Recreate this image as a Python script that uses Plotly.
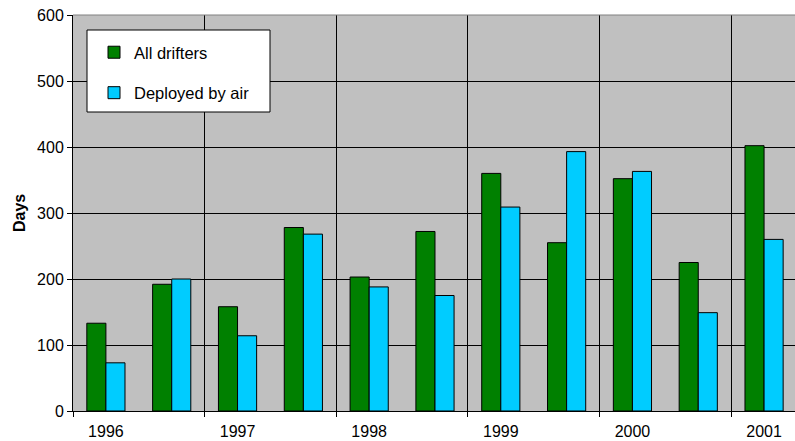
import plotly.graph_objects as go

# Half-year periods, two per year (2001 has only the first half)
periods = ["1996 H1", "1996 H2", "1997 H1", "1997 H2", "1998 H1", "1998 H2",
           "1999 H1", "1999 H2", "2000 H1", "2000 H2", "2001 H1"]
year_labels = ["1996", "1997", "1998", "1999", "2000", "2001"]

all_drifters = [133, 192, 158, 278, 203, 272, 360, 255, 352, 225, 402]
deployed_by_air = [73, 200, 114, 268, 188, 175, 309, 393, 363, 149, 260]

x_pos = list(range(len(periods)))
year_pos = x_pos[::2]
year_bounds = [p - 0.5 for p in year_pos]

W, H = 795, 441
L, R, T, B = 73, 0, 15, 30
pw, ph = W - L - R, H - T - B

def px_x(px):
    return (px - L) / pw

def px_y(py):
    return 1 - (py - T) / ph

font = "Liberation Sans, Arial, sans-serif"

fig = go.Figure()
fig.add_trace(go.Bar(
    x=x_pos, y=all_drifters, name="All drifters", legendgroup="a",
    marker=dict(color="#008000", line=dict(color="black", width=1)),
    hovertext=periods,
))
fig.add_trace(go.Bar(
    x=x_pos, y=deployed_by_air, name="Deployed by air", legendgroup="b",
    marker=dict(color="#00CCFF", line=dict(color="black", width=1)),
    hovertext=periods,
))

fig.update_layout(
    width=W, height=H,
    margin=dict(l=L, r=R, t=T, b=B, autoexpand=False),
    paper_bgcolor="white",
    plot_bgcolor="#C0C0C0",
    barmode="group",
    bargap=0.42,
    bargroupgap=0,
    font=dict(family=font, size=16, color="black"),
    showlegend=True,
    legend=dict(
        x=px_x(94), y=px_y(35), xanchor="left", yanchor="top",
        bgcolor="rgba(0,0,0,0)", borderwidth=0,
        font=dict(family=font, size=16.5, color="black"),
        tracegroupgap=16,
        traceorder="grouped",
    ),
    xaxis=dict(
        range=[-0.5, 10.47],
        tickmode="array", tickvals=year_pos, ticktext=year_labels,
        ticks="", showgrid=False, zeroline=False,
        showline=True, linecolor="black", linewidth=1,
        tickfont=dict(size=16),
        ticklabelstandoff=6,
        minor=dict(tickmode="array", tickvals=year_bounds, ticks="outside",
                   ticklen=5, tickcolor="black", tickwidth=1,
                   showgrid=True, gridcolor="black", gridwidth=1),
        fixedrange=True,
    ),
    yaxis=dict(
        range=[0, 600],
        tickmode="array", tickvals=[0, 100, 200, 300, 400, 500, 600],
        ticks="outside", ticklen=5, tickcolor="black",
        showgrid=True, gridcolor="black", gridwidth=1,
        zeroline=False, showline=True, linecolor="black", linewidth=1,
        tickfont=dict(size=16),
        fixedrange=True,
    ),
    shapes=[
        # top border of the plot area
        dict(type="line", xref="paper", yref="paper", x0=0, x1=1, y0=1, y1=1,
             line=dict(color="#808080", width=1)),
        # legend frame
        dict(type="rect", xref="paper", yref="paper",
             x0=px_x(87), x1=px_x(270), y0=px_y(112), y1=px_y(30),
             fillcolor="white", line=dict(color="black", width=1), layer="above"),
    ],
    annotations=[
        dict(text="<b>Days</b>", xref="paper", yref="paper",
             x=px_x(19), y=0.5, xanchor="center", yanchor="middle",
             textangle=-90, showarrow=False, font=dict(size=16)),
    ],
)

fig.write_html("out.html")
